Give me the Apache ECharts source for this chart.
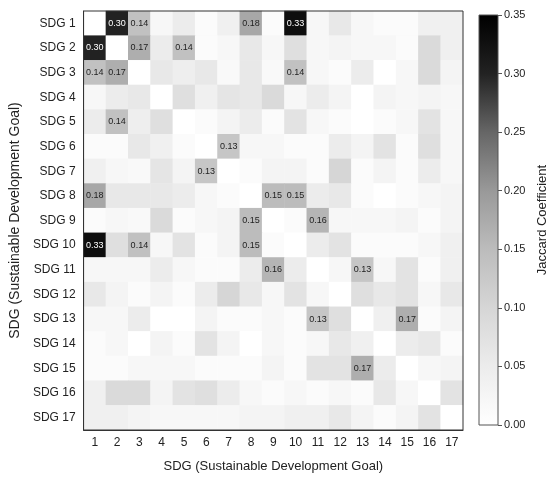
<!DOCTYPE html>
<html>
<head>
<meta charset="utf-8">
<script src="https://cdn.jsdelivr.net/npm/echarts/dist/echarts.min.js"></script>
<style>
  html, body { margin: 0; padding: 0; background: #fff; }
  #main { width: 550px; height: 478px; }
</style>
</head>
<body>
<div id="main"></div>
<script>
// SDG labels for rows, numbers for columns
const goals = ["SDG 1", "SDG 2", "SDG 3", "SDG 4", "SDG 5", "SDG 6", "SDG 7", "SDG 8", "SDG 9",
  "SDG 10", "SDG 11", "SDG 12", "SDG 13", "SDG 14", "SDG 15", "SDG 16", "SDG 17"];
const goalNumbers = ["1", "2", "3", "4", "5", "6", "7", "8", "9", "10", "11", "12", "13", "14", "15", "16", "17"];
const colorbarTicks = [0, 0.05, 0.1, 0.15, 0.2, 0.25, 0.3, 0.35];

// upper triangle of the (symmetric) Jaccard matrix, row i lists columns i+1..17
const sdg1 = [0.30, 0.14, 0.02, 0.05, 0.01, 0.04, 0.18, 0.01, 0.33, 0.02, 0.06, 0.02, 0.01, 0.01, 0.04, 0.04];
const sdg2 = [0.17, 0.05, 0.14, 0.01, 0.02, 0.06, 0.02, 0.08, 0.02, 0.03, 0.02, 0.02, 0.01, 0.09, 0.04];
const sdg3 = [0.06, 0.045, 0.06, 0.015, 0.06, 0.015, 0.14, 0.02, 0.01, 0.05, 0.00, 0.02, 0.09, 0.03];
const sdg4 = [0.08, 0.04, 0.065, 0.06, 0.09, 0.02, 0.05, 0.03, 0.00, 0.03, 0.02, 0.03, 0.02];
const sdg5 = [0.01, 0.03, 0.05, 0.01, 0.07, 0.02, 0.01, 0.00, 0.01, 0.02, 0.07, 0.02];
const sdg6 = [0.13, 0.02, 0.02, 0.01, 0.01, 0.05, 0.03, 0.07, 0.01, 0.08, 0.02];
const sdg7 = [0.01, 0.03, 0.03, 0.01, 0.10, 0.01, 0.03, 0.01, 0.05, 0.02];
const sdg8 = [0.15, 0.15, 0.05, 0.06, 0.01, 0.00, 0.01, 0.02, 0.03];
const sdg9 = [0.01, 0.16, 0.02, 0.02, 0.02, 0.03, 0.01, 0.03];
const sdg10 = [0.05, 0.07, 0.01, 0.01, 0.01, 0.02, 0.04];
const sdg11 = [0.02, 0.13, 0.02, 0.07, 0.01, 0.04];
const sdg12 = [0.08, 0.06, 0.07, 0.02, 0.06];
const sdg13 = [0.04, 0.17, 0.01, 0.03];
const sdg14 = [0.05, 0.06, 0.01];
const sdg15 = [0.02, 0.03];
const sdg16 = [0.07];

// grey ramp, one stop every 0.05
const greys = ["#ffffff", "#ececec", "#d6d6d6", "#bcbcbc", "#999999", "#666666", "#222222", "#000000"];
const vMax = 0.35;
const narrow = "'Liberation Sans Narrow', 'Liberation Sans', Arial, sans-serif";

// build the full matrix
const upperRows = [sdg1, sdg2, sdg3, sdg4, sdg5, sdg6, sdg7, sdg8, sdg9, sdg10, sdg11, sdg12, sdg13, sdg14, sdg15, sdg16];
const matrix = goals.map(() => goals.map(() => 0));
upperRows.forEach((row, i) => {
  row.forEach((v, k) => {
    const j = i + 1 + k;
    matrix[i][j] = v;
    matrix[j][i] = v;
  });
});

const cells = [];
matrix.forEach((row, i) => {
  row.forEach((v, j) => {
    cells.push({
      value: [j, i, v],
      label: { color: v > 0.25 ? "#ffffff" : "#222222" },
    });
  });
});

const chart = echarts.init(document.getElementById("main"));

const option = {
  backgroundColor: "#ffffff",
  animation: false,
  textStyle: { fontFamily: narrow },
  grid: [
    { left: 67, top: 11, width: 396, height: 425, show: true, z: 10,
      borderColor: "#333", borderWidth: 1, backgroundColor: "transparent" },
    { left: 479, top: 15, width: 19, height: 410, show: true, z: 10,
      borderColor: "#555", borderWidth: 1, backgroundColor: "transparent" },
  ],
  xAxis: [
    {
      type: "category",
      gridIndex: 0,
      data: goalNumbers,
      z: 10,
      name: "SDG (Sustainable Development Goal)",
      nameLocation: "middle",
      nameGap: 30,
      nameTextStyle: { fontSize: 13, color: "#222", fontFamily: narrow },
      axisLine: { lineStyle: { color: "#333" } },
      axisTick: { alignWithLabel: true, length: 4, lineStyle: { color: "#333" } },
      axisLabel: { fontSize: 12, color: "#222", margin: 7 },
      splitLine: { show: false },
    },
    {
      type: "category",
      gridIndex: 1,
      data: [""],
      show: false,
    },
  ],
  yAxis: [
    {
      type: "category",
      gridIndex: 0,
      data: goals,
      inverse: true,
      z: 10,
      name: "SDG (Sustainable Development Goal)",
      nameLocation: "middle",
      nameGap: 50,
      nameTextStyle: { fontSize: 14, color: "#222", fontFamily: narrow },
      axisLine: { lineStyle: { color: "#333" } },
      axisTick: { alignWithLabel: true, length: 4, lineStyle: { color: "#333" } },
      axisLabel: { fontSize: 12, color: "#222", margin: 8 },
      splitLine: { show: false },
    },
    {
      type: "value",
      gridIndex: 1,
      position: "right",
      min: 0,
      max: vMax,
      interval: 0.05,
      z: 10,
      name: "Jaccard Coefficient",
      nameLocation: "middle",
      nameRotate: 90,
      nameGap: 38,
      nameTextStyle: { fontSize: 13, color: "#222", fontFamily: "'Liberation Sans', Arial, sans-serif" },
      axisLine: { show: false },
      axisTick: { show: true, length: 4, lineStyle: { color: "#555" } },
      axisLabel: {
        fontSize: 11,
        color: "#222",
        margin: 6,
        formatter: (v) => (colorbarTicks.some((t) => Math.abs(t - v) < 1e-9) ? v.toFixed(2) : ""),
      },
      splitLine: { show: false },
    },
  ],
  visualMap: {
    show: false,
    type: "continuous",
    min: 0,
    max: vMax,
    dimension: 2,
    seriesIndex: 0,
    inRange: { color: greys },
  },
  series: [
    {
      type: "heatmap",
      xAxisIndex: 0,
      yAxisIndex: 0,
      data: cells,
      label: {
        show: true,
        fontSize: 9,
        fontFamily: "'Liberation Sans', Arial, sans-serif",
        formatter: (p) => (p.value[2] >= 0.125 ? p.value[2].toFixed(2) : ""),
      },
      emphasis: { disabled: true },
    },
    {
      // colour bar
      type: "bar",
      xAxisIndex: 1,
      yAxisIndex: 1,
      data: [vMax],
      barWidth: "100%",
      silent: true,
      itemStyle: {
        color: {
          type: "linear",
          x: 0, y: 0, x2: 0, y2: 1,
          colorStops: greys.slice().reverse().map((c, i, arr) => ({ offset: i / (arr.length - 1), color: c })),
        },
      },
    },
  ],
};

chart.setOption(option);
</script>
</body>
</html>
